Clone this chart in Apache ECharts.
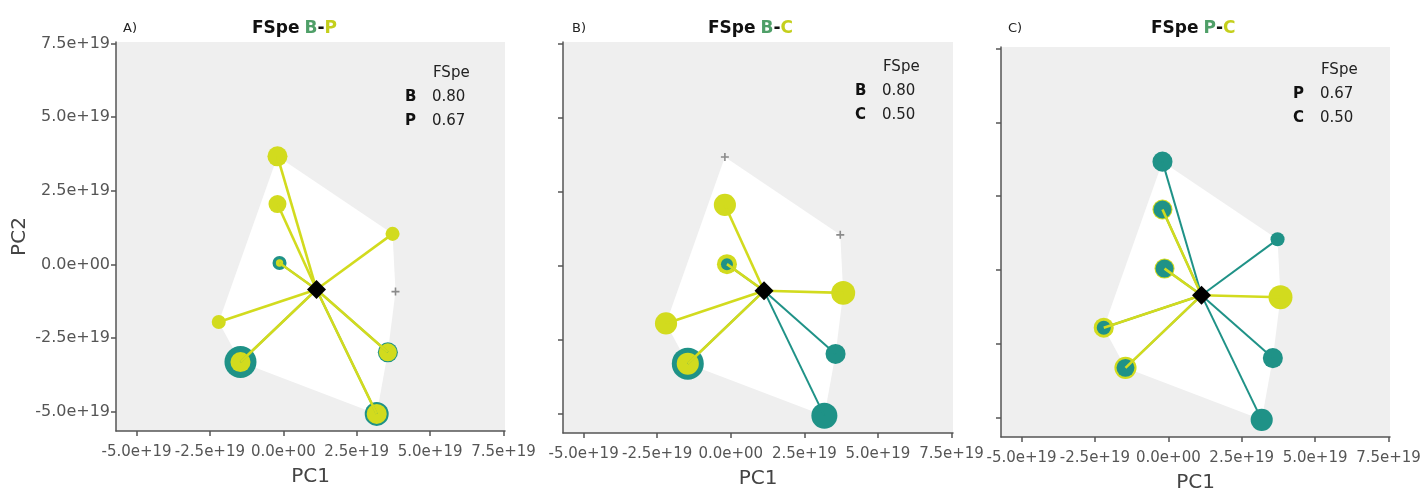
<!DOCTYPE html>
<html>
<head>
<meta charset="utf-8">
<script src="https://cdn.jsdelivr.net/npm/echarts@6/dist/echarts.min.js"></script>
<style>
  html, body { margin: 0; padding: 0; background: #fff; }
  #main { width: 1421px; height: 488px; }
</style>
</head>
<body>
<div id="main"></div>
<script>
// species positions in the functional space (PC1, PC2)
var speciesX = [-0.2e19, -0.2e19, -0.13e19, 3.72e19, 3.82e19, -2.2e19, -1.46e19, 3.56e19, 3.18e19];
var speciesY = [3.67e19, 2.05e19, 0.05e19, 1.04e19, -0.92e19, -1.95e19, -3.31e19, -2.98e19, -5.07e19];
var centroid = [1.13e19, -0.85e19];
var hullOrder = [0, 3, 4, 7, 8, 6, 5];

var panelLetters = ['A)', 'B)', 'C)'];
var panelGroups = [['B', 'P'], ['B', 'C'], ['P', 'C']];
var panelFSpe = [['0.80', '0.67'], ['0.80', '0.50'], ['0.67', '0.50']];

// relative weights of each species, first group (teal) and second group (yellow)
var weightsA1 = [0, 0, 0.31, 0, 0, 0, 1.0, 0.54, 0.69];
var weightsA2 = [0.54, 0.46, 0.05, 0.31, 0, 0.31, 0.54, 0.46, 0.54];
var weightsB1 = [0, 0, 0.23, 0, 0, 0, 1.0, 0.54, 0.77];
var weightsB2 = [0, 0.62, 0.54, 0, 0.69, 0.62, 0.62, 0, 0];
var weightsC1 = [0.54, 0.46, 0.46, 0.31, 0, 0.31, 0.46, 0.54, 0.62];
var weightsC2 = [0, 0.54, 0.54, 0, 0.69, 0.54, 0.62, 0, 0];
var panelWeights = [[weightsA1, weightsA2], [weightsB1, weightsB2], [weightsC1, weightsC2]];

var ticks = [-5e19, -2.5e19, 0, 2.5e19, 5e19, 7.5e19];
var tickLabels = ['-5.0e+19', '-2.5e+19', '0.0e+00', '2.5e+19', '5.0e+19', '7.5e+19'];

var TEAL = '#1f9287';
var YELLOW = '#d2db1e';
var grids = [
    { left: 116, top: 42, width: 389, height: 389 },
    { left: 563, top: 42, width: 390, height: 391 },
    { left: 1001, top: 47, width: 389, height: 390 }
];
var titleLeft = [247, 703, 1146];
var letterLeft = [118, 567, 1003];
var legendPos = [
    { x: 405, y: 73 },
    { x: 855, y: 67 },
    { x: 1293, y: 70 }
];

function tickFmt(v) {
    for (var i = 0; i < ticks.length; i++) {
        if (Math.abs(ticks[i] - v) < 1e15) return tickLabels[i];
    }
    return '';
}

function sizeOf(w) {
    return 6 + 26 * w;
}

var myChart = echarts.init(document.getElementById('main'));

var xAxes = [], yAxes = [], series = [], titles = [], graphics = [];

for (var p = 0; p < 3; p++) {
    var axisLine = { show: true, onZero: false, lineStyle: { color: '#555', width: 1.5 } };
    xAxes.push({
        gridIndex: p, type: 'value', min: -5.7e19, max: 7.55e19,
        axisLine: axisLine,
        axisTick: { show: true, length: 5, customValues: ticks, lineStyle: { color: '#555', width: 1.5 } },
        axisLabel: { customValues: ticks, formatter: tickFmt, color: '#555', fontSize: 15, fontFamily: 'DejaVu Sans', margin: 14, hideOverlap: false, showMinLabel: true, showMaxLabel: true },
        splitLine: { show: false },
        name: 'PC1', nameLocation: 'middle', nameGap: 36,
        nameTextStyle: { fontSize: 20, color: '#444', fontFamily: 'DejaVu Sans' }
    });
    yAxes.push({
        gridIndex: p, type: 'value', min: -5.65e19, max: 7.55e19,
        axisLine: axisLine,
        axisTick: { show: true, length: 5, customValues: ticks, lineStyle: { color: '#555', width: 1.5 } },
        axisLabel: { show: p === 0, customValues: ticks, formatter: tickFmt, color: '#555', fontSize: 16, fontFamily: 'DejaVu Sans', margin: 6, showMinLabel: true, showMaxLabel: true },
        splitLine: { show: false },
        name: p === 0 ? 'PC2' : '', nameLocation: 'middle', nameGap: 86,
        nameTextStyle: { fontSize: 20, color: '#444', fontFamily: 'DejaVu Sans' }
    });

    // white convex hull
    series.push({
        type: 'custom', xAxisIndex: p, yAxisIndex: p, silent: true, z: 1,
        data: [centroid],
        renderItem: function (params, api) {
            var pts = hullOrder.map(function (k) { return api.coord([speciesX[k], speciesY[k]]); });
            return { type: 'polygon', shape: { points: pts }, style: { fill: '#ffffff' } };
        }
    });

    var w1 = panelWeights[p][0], w2 = panelWeights[p][1];
    var pts = [], crosses = [];
    for (var k = 0; k < speciesX.length; k++) {
        if (w1[k] > 0) pts.push({ value: [speciesX[k], speciesY[k]], symbolSize: sizeOf(w1[k]), itemStyle: { color: TEAL, opacity: 1 } });
        if (w2[k] > 0) pts.push({ value: [speciesX[k], speciesY[k]], symbolSize: sizeOf(w2[k]), itemStyle: { color: YELLOW, opacity: 1 } });
        if (w1[k] === 0 && w2[k] === 0) crosses.push([speciesX[k], speciesY[k]]);
    }
    pts.sort(function (a, b) { return b.symbolSize - a.symbolSize; });

    series.push({
        type: 'scatter', xAxisIndex: p, yAxisIndex: p, z: 3, silent: true,
        itemStyle: { opacity: 1 },
        data: pts
    });
    series.push({
        type: 'scatter', xAxisIndex: p, yAxisIndex: p, z: 3, silent: true,
        symbol: 'path://M4,0H6V10H4Z M0,4H10V6H0Z', symbolSize: 8,
        itemStyle: { color: '#8a8a8a', opacity: 1 },
        data: crosses
    });

    [[w1, TEAL, 2], [w2, YELLOW, 2.6]].forEach(function (g) {
        var segs = [];
        for (var k = 0; k < speciesX.length; k++) {
            if (g[0][k] > 0) segs.push({ coords: [centroid, [speciesX[k], speciesY[k]]] });
        }
        series.push({
            type: 'lines', coordinateSystem: 'cartesian2d', xAxisIndex: p, yAxisIndex: p,
            z: 4, silent: true, lineStyle: { color: g[1], width: g[2], opacity: 1 },
            data: segs
        });
    });

    series.push({
        type: 'scatter', xAxisIndex: p, yAxisIndex: p, z: 5, silent: true,
        symbol: 'diamond', symbolSize: [19, 19], itemStyle: { color: '#000', opacity: 1 },
        data: [centroid]
    });

    titles.push({
        text: '{k|FSpe} {g|' + panelGroups[p][0] + '}{k2|-}{y|' + panelGroups[p][1] + '}',
        left: titleLeft[p], top: 15,
        textStyle: {
            rich: {
                k: { fontSize: 17, fontWeight: 'bold', color: '#111', fontFamily: 'DejaVu Sans' },
                k2: { fontSize: 17, color: '#111', fontFamily: 'DejaVu Sans' },
                g: { fontSize: 17, color: '#4f9f68', fontFamily: 'DejaVu Sans' },
                y: { fontSize: 17, color: '#c4cf1c', fontFamily: 'DejaVu Sans' }
            }
        }
    });
    titles.push({
        text: panelLetters[p], left: letterLeft[p], top: 17,
        textStyle: { fontSize: 13, fontWeight: 'normal', color: '#222', fontFamily: 'DejaVu Sans' }
    });

    var lp = legendPos[p];
    graphics.push({ type: 'text', x: lp.x + 28, y: lp.y, style: { text: 'FSpe', font: '15px "DejaVu Sans"', fill: '#222', verticalAlign: 'middle' } });
    for (var r = 0; r < 2; r++) {
        graphics.push({ type: 'text', x: lp.x, y: lp.y + 24 + r * 24, style: { text: panelGroups[p][r], font: 'bold 15px "DejaVu Sans"', fill: '#111', verticalAlign: 'middle' } });
        graphics.push({ type: 'text', x: lp.x + 27, y: lp.y + 24 + r * 24, style: { text: panelFSpe[p][r], font: '15px "DejaVu Sans"', fill: '#222', verticalAlign: 'middle' } });
    }
}

option = {
    animation: false,
    backgroundColor: '#fff',
    title: titles,
    grid: grids.map(function (g) {
        return {
            left: g.left, top: g.top, width: g.width, height: g.height,
            show: true, backgroundColor: '#efefef', borderWidth: 0,
            containLabel: false, outerBoundsMode: 'none'
        };
    }),
    xAxis: xAxes,
    yAxis: yAxes,
    series: series,
    graphic: graphics
};
myChart.setOption(option);
</script>
</body>
</html>
